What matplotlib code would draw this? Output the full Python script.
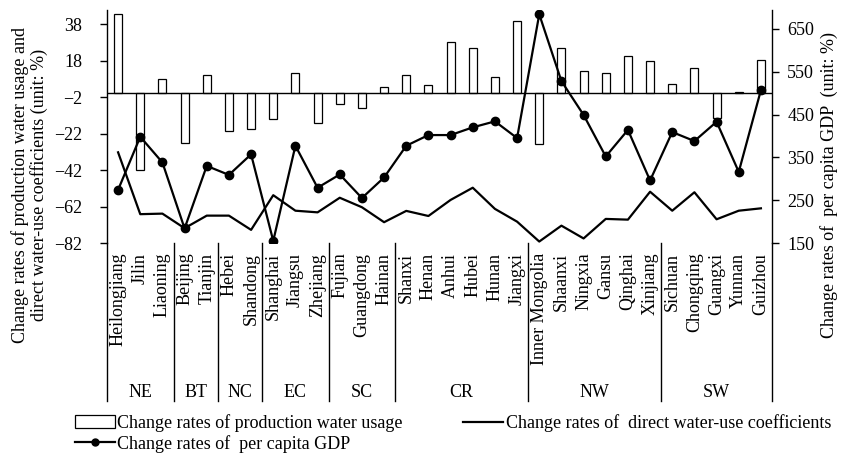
import matplotlib
matplotlib.use('Agg')
import matplotlib.pyplot as plt
import matplotlib.transforms as mtransforms
from matplotlib.lines import Line2D
from matplotlib.patches import Patch
import numpy as np

plt.rcParams['font.family'] = ['Liberation Serif', 'DejaVu Serif']
plt.rcParams['font.size'] = 13

provinces = ['Heilongjiang', 'Jilin', 'Liaoning', 'Beijing', 'Tianjin', 'Hebei', 'Shandong',
             'Shanghai', 'Jiangsu', 'Zhejiang', 'Fujian', 'Guangdong', 'Hainan',
             'Shanxi', 'Henan', 'Anhui', 'Hubei', 'Hunan', 'Jiangxi',
             'Inner Mongolia', 'Shaanxi', 'Ningxia', 'Gansu', 'Qinghai', 'Xinjiang',
             'Sichuan', 'Chongqing', 'Guangxi', 'Yunnan', 'Guizhou']
regions = ['NE', 'BT', 'NC', 'EC', 'SC', 'CR', 'NW', 'SW']
region_sizes = [3, 2, 2, 3, 3, 6, 6, 5]

# change rates of production water usage (%), left axis
water_usage = [43.5, -42.0, 7.9, -27.0, 9.9, -20.4, -19.7,
               -13.9, 11.0, -16.4, -5.6, -7.8, 3.7,
               9.9, 4.6, 28.2, 25.0, 8.8, 39.8,
               -27.9, 25.0, 12.3, 11.0, 20.7, 17.6,
               5.2, 14.1, -13.6, 0.5, 18.3]
# change rates of direct water-use coefficients (%), left axis
water_coef = [-32.3, -66.2, -65.9, -73.9, -67.0, -67.0, -74.8,
              -55.8, -64.3, -65.2, -57.2, -62.4, -70.6,
              -64.4, -67.2, -58.4, -51.7, -63.3, -70.3,
              -81.2, -72.5, -79.5, -68.8, -69.2, -53.9,
              -64.3, -54.2, -69.0, -64.3, -63.0]
# change rates of per capita GDP (%), right axis
gdp = [274, 398, 338, 184, 330, 309, 357,
       155, 377, 279, 310, 255, 303,
       377, 402, 402, 420, 434, 395,
       684, 528, 449, 352, 414, 296,
       409, 388, 433, 316, 507]

left_ticks = [-82, -62, -42, -22, -2, 18, 38]
right_ticks = [150, 250, 350, 450, 550, 650]

fig = plt.figure(figsize=(8.43, 4.55), dpi=100)
ax = fig.add_axes([107 / 843, 1 - 243 / 455, 665 / 843, 233 / 455])
x = np.arange(len(provinces))

ax.bar(x, water_usage, width=0.36, facecolor='white', edgecolor='black', linewidth=0.9, zorder=2)
ax.plot(x, water_coef, color='black', linewidth=1.6, zorder=3)
ax.axhline(0, color='black', linewidth=1.0, zorder=2)

ax.set_xlim(-0.5, len(provinces) - 0.5)
ax.set_ylim(-82, 45.7)
ax.set_yticks(left_ticks)
ax.set_xticks(x)
ax.set_xticklabels(provinces, rotation=90, va='top', ha='center')
ax.tick_params(axis='x', length=0, pad=7)
ax.tick_params(axis='y', direction='out', length=5, width=1, pad=13)
for s in ['top', 'bottom', 'right']:
    ax.spines[s].set_visible(False)
ax.spines['left'].set_linewidth(1.0)

ax2 = ax.twinx()
ax2.plot(x, gdp, color='black', linewidth=1.6, marker='o', markersize=6, zorder=4)
ax2.set_ylim(150, 694)
ax2.set_yticks(right_ticks)
ax2.tick_params(axis='y', direction='out', length=5, width=1, pad=6)
for s in ['top', 'bottom', 'left']:
    ax2.spines[s].set_visible(False)
ax2.spines['right'].set_linewidth(1.0)

# region separators and labels below the axis
trans = mtransforms.blended_transform_factory(ax.transData, ax.transAxes)
bounds = np.concatenate([[0], np.cumsum(region_sizes)]) - 0.5
for b in bounds:
    ax.plot([b, b], [0, -0.678], transform=trans, color='black', linewidth=1.0, clip_on=False)
for i, r in enumerate(regions):
    ax.text((bounds[i] + bounds[i + 1]) / 2, -0.64, r, transform=trans, ha='center', va='center')

fig.text(0.035, 0.593, 'Change rates of production water usage and\ndirect water-use coefficients (unit: %)',
         rotation=90, ha='center', va='center', multialignment='center', linespacing=1.1)
fig.text(0.983, 0.593, 'Change rates of  per capita GDP  (unit: %)',
         rotation=90, ha='center', va='center')

handles = [Patch(facecolor='white', edgecolor='black', linewidth=0.9),
           Line2D([], [], color='black', linewidth=1.6, marker='o', markersize=5),
           Line2D([], [], color='black', linewidth=1.6)]
labels = ['Change rates of production water usage',
          'Change rates of  per capita GDP',
          'Change rates of  direct water-use coefficients']
fig.legend(handles, labels, ncol=2, loc='upper left', bbox_to_anchor=(0.089, 0.09),
           frameon=False, handlelength=2.2, handletextpad=0.15, columnspacing=3.35,
           labelspacing=0.15, borderpad=0, borderaxespad=0)

fig.savefig('out.png', dpi=100)
